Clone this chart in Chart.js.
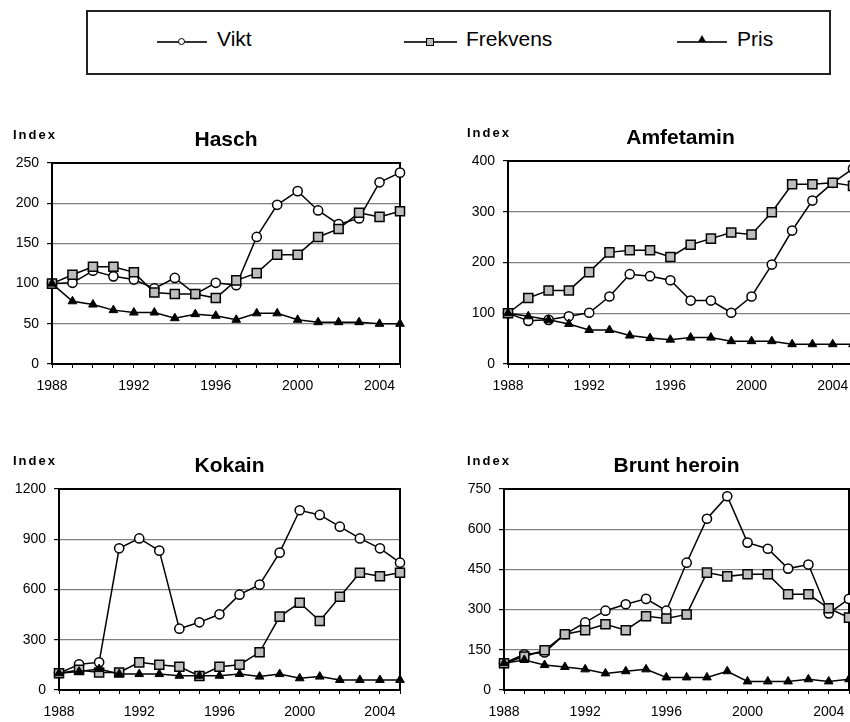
<!DOCTYPE html>
<html>
<head>
<meta charset="utf-8">
<script src="https://cdn.jsdelivr.net/npm/chart.js@4/dist/chart.umd.min.js"></script>
<style>
  html, body { margin: 0; padding: 0; background: #fff; overflow: hidden; width: 850px; height: 722px; }
  canvas { position: absolute; }
  #legend { position: absolute; left: 86px; top: 10px; width: 741px; height: 61px; border: 2px solid #222; font-family: "Liberation Sans", Arial, sans-serif; font-size: 21px; color: #000; }
  .item { position: absolute; top: 14px; height: 26px; line-height: 26px; }
  .sym { position: absolute; height: 2px; background: #333; }
  .mk { position: absolute; }
</style>
</head>
<body>
<div id="legend">
  <div class="sym" style="left:69px;width:50px;top:29px"></div>
  <div class="mk" style="left:90px;top:26px;width:5px;height:5px;border:1px solid #000;border-radius:50%;background:#fff"></div>
  <div class="item" style="left:129px">Vikt</div>
  <div class="sym" style="left:316px;width:53px;top:29px"></div>
  <div class="mk" style="left:338px;top:26px;width:6px;height:6px;border:1px solid #000;background:#bbb"></div>
  <div class="item" style="left:378px">Frekvens</div>
  <div class="sym" style="left:589px;width:50px;top:29px"></div>
  <div class="mk" style="left:610px;top:23px;width:0;height:0;border-left:4px solid transparent;border-right:4px solid transparent;border-bottom:7px solid #000"></div>
  <div class="item" style="left:649px">Pris</div>
</div>
<canvas id="c1" width="420" height="280" style="left:0;top:120px"></canvas>
<canvas id="c2" width="460" height="280" style="left:420px;top:120px"></canvas>
<canvas id="c3" width="420" height="302" style="left:0;top:420px"></canvas>
<canvas id="c4" width="460" height="302" style="left:420px;top:420px"></canvas>
<script>
var years = ['1988','1989','1990','1991','1992','1993','1994','1995','1996','1997','1998','1999','2000','2001','2002','2003','2004','2005'];

var haschVikt     = [100,101,116,109,105,94,107,87,101,98,158,198,215,191,174,181,226,238];
var haschFrekvens = [100,111,121,121,114,89,87,87,82,104,113,136,136,158,168,188,183,190];
var haschPris     = [100,78,74,67,64,64,57,62,60,55,63,63,55,52,52,52,50,50];

var amfVikt     = [100,85,87,94,101,133,177,173,165,125,125,101,133,196,263,322,357,385];
var amfFrekvens = [100,130,145,145,181,220,224,224,211,235,247,259,255,299,354,354,357,351];
var amfPris     = [100,94,87,79,67,67,56,51,48,52,52,45,45,45,39,39,39,39];

var kokVikt     = [100,153,165,846,905,832,366,404,452,569,629,820,1073,1045,975,905,846,760];
var kokFrekvens = [100,120,105,105,165,151,139,84,139,151,225,438,521,412,557,700,679,700];
var kokPris     = [100,110,125,95,95,95,85,85,85,95,80,95,70,80,60,60,60,60];

var herVikt     = [100,133,140,208,252,296,320,340,296,475,639,723,550,527,453,468,286,340];
var herFrekvens = [100,125,148,208,223,245,223,275,267,282,438,424,432,432,357,357,305,270];
var herPris     = [100,112,93,86,77,62,70,77,47,47,47,70,32,32,32,40,32,40];

var FONT = '"Liberation Sans", Arial, sans-serif';

var framePlugin = {
  id: 'frame',
  beforeDatasetsDraw: function(chart) {
    var a = chart.chartArea, ctx = chart.ctx;
    ctx.save();
    ctx.strokeStyle = '#000';
    ctx.lineWidth = 2;
    ctx.strokeRect(a.left, a.top, a.right - a.left, a.bottom - a.top);
    ctx.restore();
  },
  afterDraw: function(chart, args, opts) {
    var a = chart.chartArea, ctx = chart.ctx;
    ctx.save();
    ctx.fillStyle = '#000';
    ctx.textAlign = 'center';
    ctx.textBaseline = 'middle';
    ctx.font = 'bold 21px ' + FONT;
    ctx.fillText(opts.title, (a.left + a.right) / 2, a.top - 23);
    ctx.textAlign = 'left';
    ctx.font = 'bold 13px ' + FONT;
    ctx.letterSpacing = '2px';
    ctx.fillText('Index', opts.indexX, a.top - 28);
    ctx.restore();
  }
};

function makeChart(id, title, vikt, frekvens, pris, max, step, opt) {
  return new Chart(document.getElementById(id), {
    type: 'line',
    data: {
      labels: years,
      datasets: [
        { label: 'Vikt', data: vikt, order: 3, borderColor: '#000', borderWidth: 1.5,
          pointStyle: 'circle', pointRadius: 4.6, pointBackgroundColor: '#fff', pointBorderColor: '#000', pointBorderWidth: 1.5 },
        { label: 'Frekvens', data: frekvens, order: 2, borderColor: '#000', borderWidth: 1.5,
          pointStyle: 'rect', pointRadius: 6.4, pointBackgroundColor: '#bdbdbd', pointBorderColor: '#000', pointBorderWidth: 1.5 },
        { label: 'Pris', data: pris, order: 1, borderColor: '#000', borderWidth: 1.5,
          pointStyle: 'triangle', pointRadius: 5, pointBackgroundColor: '#000', pointBorderColor: '#000', pointBorderWidth: 1 }
      ]
    },
    options: {
      responsive: false,
      animation: false,
      layout: { padding: { top: opt.top, right: opt.right, left: 0, bottom: 0 } },
      plugins: {
        legend: { display: false },
        tooltip: { enabled: false },
        frame: { title: title, indexX: opt.indexX }
      },
      scales: {
        x: {
          offset: false,
          grid: { display: true, drawOnChartArea: false, drawTicks: true, tickLength: 4, tickColor: '#000', offset: false },
          border: { color: '#000', width: 2 },
          ticks: {
            autoSkip: false, maxRotation: 0, padding: 10, color: '#000',
            font: { family: FONT, size: 14 },
            callback: function(v, i) { return i % 4 === 0 ? years[i] : ''; }
          },
          afterFit: function(s) { s.height = opt.xh; }
        },
        y: {
          min: 0, max: max,
          grid: { color: '#808080', lineWidth: 1.2, tickLength: 5, tickColor: '#000' },
          border: { color: '#000', width: 2 },
          ticks: { stepSize: step, padding: 8, color: '#000', font: { family: FONT, size: 14 },
            callback: function(v) { return String(v); } },
          afterFit: function(s) { s.width = opt.yw; }
        }
      }
    },
    plugins: [framePlugin]
  });
}

makeChart('c1', 'Hasch', haschVikt, haschFrekvens, haschPris, 250, 50, { top: 43, right: 20, xh: 36, yw: 52, indexX: 13 });
makeChart('c2', 'Amfetamin', amfVikt, amfFrekvens, amfPris, 400, 100, { top: 41, right: 27, xh: 36, yw: 88, indexX: 47 });
makeChart('c3', 'Kokain', kokVikt, kokFrekvens, kokPris, 1200, 300, { top: 69, right: 20, xh: 32, yw: 59, indexX: 13 });
makeChart('c4', 'Brunt heroin', herVikt, herFrekvens, herPris, 750, 150, { top: 69, right: 31, xh: 32, yw: 84, indexX: 47 });
</script>
</body>
</html>
